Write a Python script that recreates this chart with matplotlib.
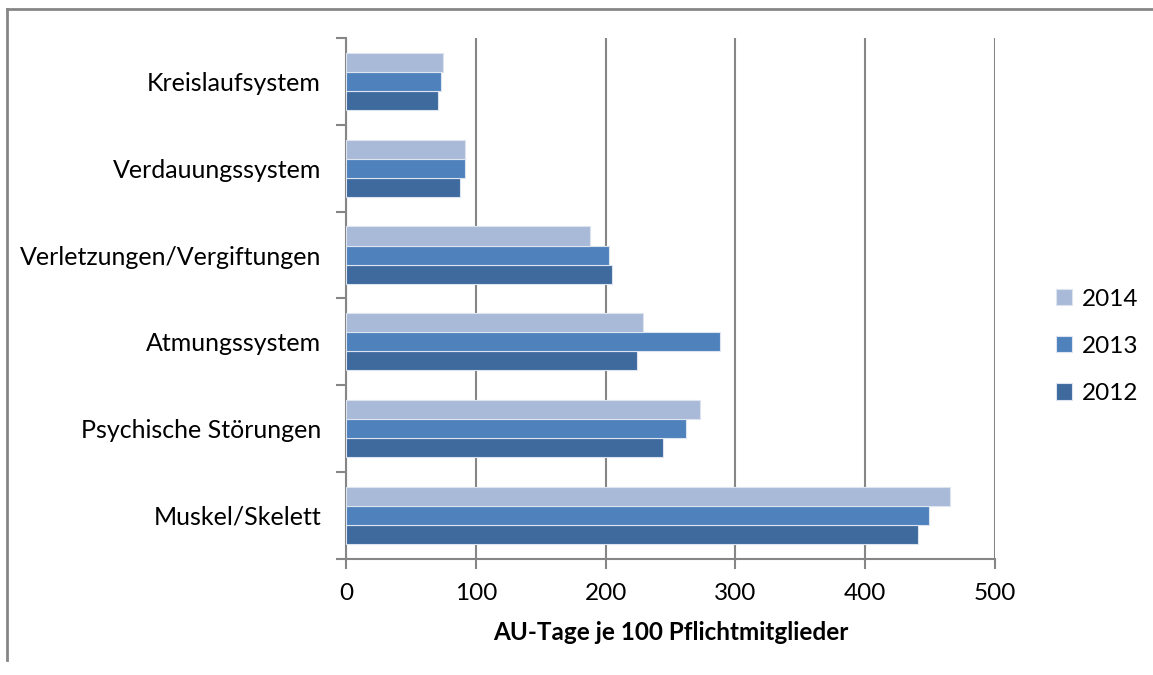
import numpy as np
import matplotlib.pyplot as plt
from matplotlib.lines import Line2D

plt.rcParams['font.family'] = ['Lato', 'DejaVu Sans']

# Diagnosegruppen von unten nach oben
categories = ['Muskel/Skelett', 'Psychische Störungen', 'Atmungssystem',
              'Verletzungen/Vergiftungen', 'Verdauungssystem', 'Kreislaufsystem']
years = ['2012', '2013', '2014']
au_2012 = [441, 244.5, 224, 205, 88, 71]
au_2013 = [449, 262, 288.5, 202.5, 91.5, 73.5]
au_2014 = [465.5, 272.5, 229, 188, 91.5, 75]
colors = ['#3F6A9E', '#4F81BD', '#A9B9D8']

fig = plt.figure(figsize=(11.53, 6.75), dpi=100)
ax = fig.add_axes([346 / 1153, 1 - 558.5 / 675, (995 - 346) / 1153, (558.5 - 38.3) / 675])

y = np.arange(len(categories))
h = 0.22
for i, (vals, col) in enumerate(zip([au_2012, au_2013, au_2014], colors)):
    ax.barh(y + (i - 1) * h, vals, height=h, color=col, edgecolor='#DCE4F0',
            linewidth=0.8, label=years[i], zorder=3)

ax.set_xlim(0, 500)
ax.set_ylim(-0.5, len(categories) - 0.5)
ax.set_xticks(range(0, 501, 100))
ax.set_yticks(y)
ax.set_yticklabels(categories)
ax.set_yticks(np.arange(-0.5, len(categories), 1), minor=True)
ax.tick_params(axis='y', which='major', length=0, pad=18, labelsize=18)
ax.tick_params(axis='y', which='minor', length=7, width=1.5, color='#868686')
ax.tick_params(axis='x', length=7, width=1.5, color='#868686', pad=11, labelsize=17.5)
ax.grid(axis='x', color='#868686', linewidth=1.5, zorder=0)
for s in ['top', 'right']:
    ax.spines[s].set_visible(False)
for s in ['left', 'bottom']:
    ax.spines[s].set_color('#868686')
    ax.spines[s].set_linewidth(1.5)

ax.set_xlabel('AU-Tage je 100 Pflichtmitglieder', fontsize=17.5, fontweight='bold', labelpad=12)

handles, labels = ax.get_legend_handles_labels()
ax.legend(handles[::-1], labels[::-1], loc='center left', bbox_to_anchor=(1.079, 0.408),
          frameon=False, fontsize=17.5, handlelength=0.65, handleheight=0.65,
          handletextpad=0.4, labelspacing=1.08, borderaxespad=0)

# Rahmen um das Diagramm
fig.add_artist(Line2D([7 / 1153, 7 / 1153], [1 - 660 / 675, 1 - 9 / 675],
                      color='#868686', linewidth=2, transform=fig.transFigure))
fig.add_artist(Line2D([7 / 1153, 1], [1 - 9 / 675, 1 - 9 / 675],
                      color='#868686', linewidth=2, transform=fig.transFigure))

fig.savefig('out.png', dpi=100)
